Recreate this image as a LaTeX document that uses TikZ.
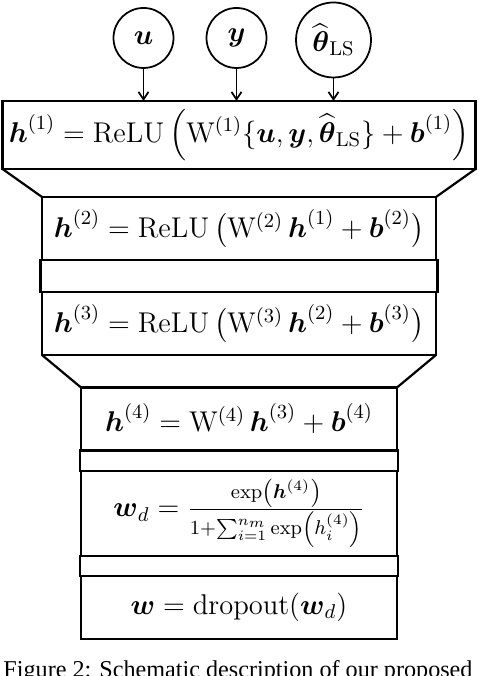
\RequirePackage{fix-cm}
\documentclass[tikz,border=0pt]{standalone}
\usepackage{amsmath,amssymb}
\usepackage{fontspec}
\newfontfamily\capfont{Liberation Serif}
\usetikzlibrary{arrows.meta}

\begin{document}
\begin{tikzpicture}[
  every node/.style={align=center, font=\fontsize{13}{16}\selectfont},
  arr/.style={-{Straight Barb[length=1.2mm, width=1.6mm]}, line width=0.8pt},
  inp/.style={circle, draw, line width=0.8pt, minimum size=0.96cm, inner sep=0pt},
  layer/.style={rectangle, draw, line width=1pt, outer sep=0pt, inner sep=0pt,
                minimum width=6.304cm, minimum height=1.008cm},
  narrow/.style={layer, minimum width=5.056cm},
  spacer/.style={layer, minimum width=6.352cm, minimum height=0.512cm},
  nspacer/.style={layer, minimum width=5.088cm, minimum height=0.33cm},
  flare/.style={line width=1pt},
]

\useasboundingbox (0,0) rectangle (7.648,10.816);
\clip (0,0) rectangle (7.648,10.816);

% ---------------------------------------------------------------- inputs
\node[inp] (u)     at (2.296,10.208) {$\boldsymbol{u}$};
\node[inp] (y)     at (3.784,10.208) {$\boldsymbol{y}$};
\node[inp, minimum size=1.2cm] (theta) at (5.336,10.176) {$\widehat{\boldsymbol{\theta}}_{\mathrm{LS}}$};

% ---------------------------------------------------------------- wide layers
\node[layer, minimum width=7.568cm, minimum height=1.088cm] (h1) at (3.824,8.656)
  {$\boldsymbol{h}^{(1)} = \mathrm{ReLU}\left(\mathrm{W}^{(1)}\{\boldsymbol{u},\boldsymbol{y},\widehat{\boldsymbol{\theta}}_{\mathrm{LS}}\}+\boldsymbol{b}^{(1)}\right)$};
\node[layer]  (h2)   at (3.824,7.16) {$\boldsymbol{h}^{(2)} = \mathrm{ReLU}\,\bigl(\mathrm{W}^{(2)}\,\boldsymbol{h}^{(1)}+\boldsymbol{b}^{(2)}\bigr)$};
\node[spacer] (sp23) at (3.824,6.4) {};
\node[layer]  (h3)   at (3.824,5.64) {$\boldsymbol{h}^{(3)} = \mathrm{ReLU}\,\bigl(\mathrm{W}^{(3)}\,\boldsymbol{h}^{(2)}+\boldsymbol{b}^{(3)}\bigr)$};

% ---------------------------------------------------------------- narrow layers
\node[narrow]  (h4)   at (3.824,4.112) {$\boldsymbol{h}^{(4)} = \mathrm{W}^{(4)}\,\boldsymbol{h}^{(3)}+\boldsymbol{b}^{(4)}$};
\node[nspacer] (sp45) at (3.824,3.448) {};
\node[narrow, minimum height=1.36cm] (wd) at (3.824,2.6)
  {$\boldsymbol{w}_d = \frac{\exp\left(\boldsymbol{h}^{(4)}\right)}{1+\sum_{i=1}^{n_m}\exp\left(h_i^{(4)}\right)}$};
\node[nspacer] (sp56) at (3.824,1.76) {};
\node[narrow]  (w)    at (3.824,1.096) {$\boldsymbol{w} = \mathrm{dropout}(\boldsymbol{w}_d)$};

% ---------------------------------------------------------------- connectors
\draw[arr] (u)     -- (u |- h1.north);
\draw[arr] (y)     -- (y |- h1.north);
\draw[arr] (theta) -- (theta |- h1.north);

\draw[flare] (h1.south west) -- (h2.north west);
\draw[flare] (h1.south east) -- (h2.north east);
\draw[flare] (h3.south west) -- (h4.north west);
\draw[flare] (h3.south east) -- (h4.north east);

% ---------------------------------------------------------------- caption
\node[font=\capfont\fontsize{11}{13}\selectfont, anchor=base west, inner sep=0pt] (caption)
  at (0.048,-0.03) {Figure 2: Schematic description of our proposed};

\end{tikzpicture}
\end{document}
